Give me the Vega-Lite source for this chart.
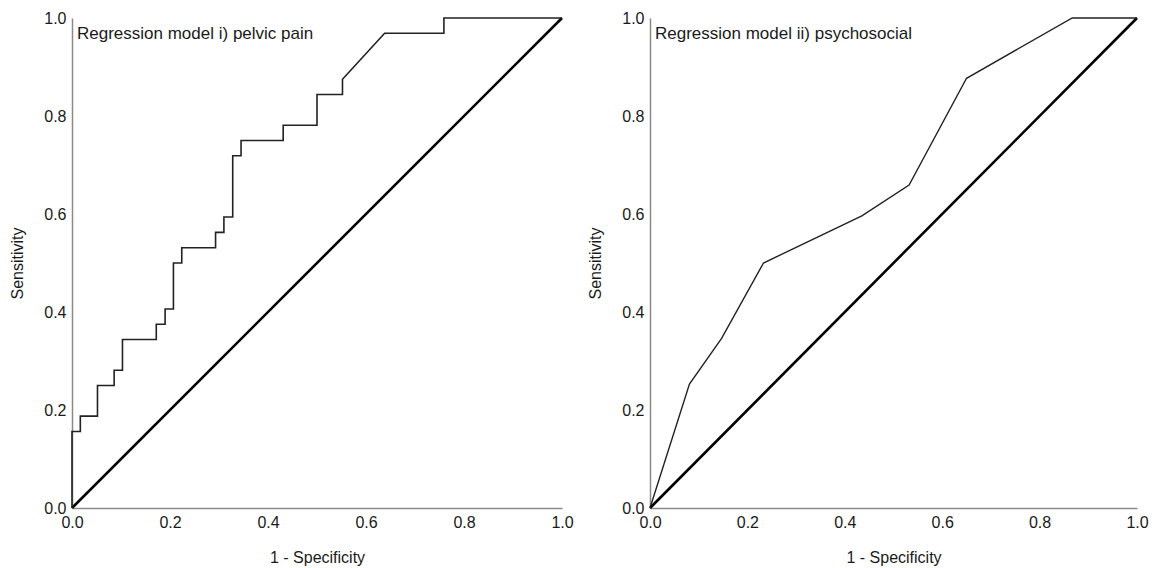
{
  "$schema": "https://vega.github.io/schema/vega-lite/v6.json",
  "background": "white",
  "padding": {"top": 10, "left": 9, "right": 5, "bottom": 5},
  "spacing": 13,
  "config": {
    "view": {"stroke": null},
    "font": "Liberation Sans",
    "axis": {
      "grid": false,
      "ticks": false,
      "tickSize": 0,
      "labelFlush": false,
      "domainColor": "#8a8a8a",
      "domainWidth": 1.5,
      "labelFont": "Liberation Sans",
      "labelFontSize": 16,
      "labelColor": "#1a1a1a",
      "labelPadding": 6,
      "titleFont": "Liberation Sans",
      "titleFontSize": 16,
      "titleFontWeight": "normal",
      "titleColor": "#1a1a1a"
    },
    "axisX": {"titlePadding": 19},
    "axisY": {"titlePadding": 18}
  },
  "datasets": {
    "diag": [{"fpr": 0, "sens": 0}, {"fpr": 1, "sens": 1}],
    "roc1": [
      {"fpr": 0, "sens": 0},
      {"fpr": 0, "sens": 0.156},
      {"fpr": 0.017, "sens": 0.156},
      {"fpr": 0.017, "sens": 0.1875},
      {"fpr": 0.052, "sens": 0.1875},
      {"fpr": 0.052, "sens": 0.25},
      {"fpr": 0.086, "sens": 0.25},
      {"fpr": 0.086, "sens": 0.281},
      {"fpr": 0.103, "sens": 0.281},
      {"fpr": 0.103, "sens": 0.344},
      {"fpr": 0.172, "sens": 0.344},
      {"fpr": 0.172, "sens": 0.375},
      {"fpr": 0.19, "sens": 0.375},
      {"fpr": 0.19, "sens": 0.406},
      {"fpr": 0.207, "sens": 0.406},
      {"fpr": 0.207, "sens": 0.5},
      {"fpr": 0.224, "sens": 0.5},
      {"fpr": 0.224, "sens": 0.531},
      {"fpr": 0.293, "sens": 0.531},
      {"fpr": 0.293, "sens": 0.5625},
      {"fpr": 0.31, "sens": 0.5625},
      {"fpr": 0.31, "sens": 0.594},
      {"fpr": 0.328, "sens": 0.594},
      {"fpr": 0.328, "sens": 0.719},
      {"fpr": 0.345, "sens": 0.719},
      {"fpr": 0.345, "sens": 0.75},
      {"fpr": 0.431, "sens": 0.75},
      {"fpr": 0.431, "sens": 0.781},
      {"fpr": 0.5, "sens": 0.781},
      {"fpr": 0.5, "sens": 0.844},
      {"fpr": 0.552, "sens": 0.844},
      {"fpr": 0.552, "sens": 0.875},
      {"fpr": 0.638, "sens": 0.969},
      {"fpr": 0.759, "sens": 0.969},
      {"fpr": 0.759, "sens": 1},
      {"fpr": 1, "sens": 1}
    ],
    "roc2": [
      {"fpr": 0, "sens": 0},
      {"fpr": 0.081, "sens": 0.253},
      {"fpr": 0.147, "sens": 0.346},
      {"fpr": 0.233, "sens": 0.5},
      {"fpr": 0.435, "sens": 0.596},
      {"fpr": 0.532, "sens": 0.659},
      {"fpr": 0.65, "sens": 0.877},
      {"fpr": 0.867, "sens": 1},
      {"fpr": 1, "sens": 1}
    ],
    "lab1": [{"fpr": 0, "sens": 1, "label": "Regression model i) pelvic pain"}],
    "lab2": [{"fpr": 0, "sens": 1, "label": "Regression model ii) psychosocial"}]
  },
  "hconcat": [
    {
      "width": 490,
      "height": 490,
      "layer": [
        {
          "data": {"name": "diag"},
          "mark": {"type": "line", "color": "#000000", "strokeWidth": 2.6},
          "encoding": {
            "x": {"field": "fpr", "type": "quantitative", "scale": {"domain": [0, 1], "nice": false}, "axis": {"values": [0, 0.2, 0.4, 0.6, 0.8, 1], "format": ".1f", "title": "1 - Specificity"}},
            "y": {"field": "sens", "type": "quantitative", "scale": {"domain": [0, 1], "nice": false}, "axis": {"values": [0, 0.2, 0.4, 0.6, 0.8, 1], "format": ".1f", "title": "Sensitivity"}}
          }
        },
        {
          "data": {"name": "roc1"},
          "mark": {"type": "line", "color": "#222222", "strokeWidth": 1.6},
          "encoding": {
            "x": {"field": "fpr", "type": "quantitative"},
            "y": {"field": "sens", "type": "quantitative"},
            "order": {"value": 0}
          }
        },
        {
          "data": {"name": "lab1"},
          "mark": {"type": "text", "align": "left", "baseline": "top", "dx": 5, "dy": 8, "fontSize": 17, "color": "#1a1a1a"},
          "encoding": {
            "x": {"field": "fpr", "type": "quantitative"},
            "y": {"field": "sens", "type": "quantitative"},
            "text": {"field": "label"}
          }
        }
      ]
    },
    {
      "width": 487,
      "height": 490,
      "layer": [
        {
          "data": {"name": "diag"},
          "mark": {"type": "line", "color": "#000000", "strokeWidth": 2.6},
          "encoding": {
            "x": {"field": "fpr", "type": "quantitative", "scale": {"domain": [0, 1], "nice": false}, "axis": {"values": [0, 0.2, 0.4, 0.6, 0.8, 1], "format": ".1f", "title": "1 - Specificity"}},
            "y": {"field": "sens", "type": "quantitative", "scale": {"domain": [0, 1], "nice": false}, "axis": {"values": [0, 0.2, 0.4, 0.6, 0.8, 1], "format": ".1f", "title": "Sensitivity"}}
          }
        },
        {
          "data": {"name": "roc2"},
          "mark": {"type": "line", "color": "#222222", "strokeWidth": 1.4},
          "encoding": {
            "x": {"field": "fpr", "type": "quantitative"},
            "y": {"field": "sens", "type": "quantitative"},
            "order": {"value": 0}
          }
        },
        {
          "data": {"name": "lab2"},
          "mark": {"type": "text", "align": "left", "baseline": "top", "dx": 5, "dy": 8, "fontSize": 17, "color": "#1a1a1a"},
          "encoding": {
            "x": {"field": "fpr", "type": "quantitative"},
            "y": {"field": "sens", "type": "quantitative"},
            "text": {"field": "label"}
          }
        }
      ]
    }
  ]
}
